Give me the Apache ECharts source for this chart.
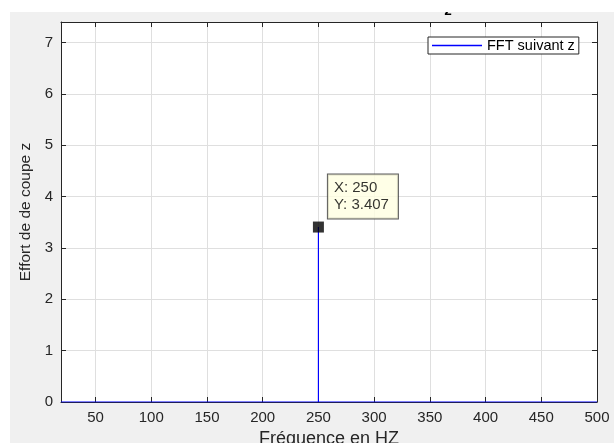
<!DOCTYPE html>
<html>
<head>
<meta charset="utf-8">
<script src="https://cdn.jsdelivr.net/npm/echarts@6/dist/echarts.min.js"></script>
<style>
html, body { margin: 0; padding: 0; background: #fff; }
#chart { width: 614px; height: 443px; }
</style>
</head>
<body>
<div id="chart"></div>
<script>
// FFT spectrum: flat at zero, single peak at 250 Hz
var freq = [19, 250, 250, 250, 500];
var effort = [0, 0, 3.407, 0, 0];
var tipPoint = [250, 3.407];
var xTicks = [50, 100, 150, 200, 250, 300, 350, 400, 450, 500];
var yTicks = [0, 1, 2, 3, 4, 5, 6, 7];

var font = 'Liberation Sans, Arial, Helvetica, sans-serif';
var ink = '#262626';
var gridColor = '#dfdfdf';
var blue = '#0000ff';

function edge_axis(pos, type) {
    var ax = {
        type: 'value', position: pos,
        min: type === 'x' ? 19 : 0,
        max: type === 'x' ? 500 : 7.4,
        axisLine: { show: true, onZero: false, lineStyle: { color: ink, width: 1 } },
        axisTick: { show: true, inside: true, length: 5, lineStyle: { color: ink },
                    customValues: type === 'x' ? xTicks : yTicks },
        axisLabel: { show: false },
        splitLine: { show: false }
    };
    return ax;
}

var chart = echarts.init(document.getElementById('chart'));
var xTop = edge_axis('top', 'x');
var yRight = edge_axis('right', 'y');

chart.setOption({
    animation: false,
    color: [blue, '#000'],
    textStyle: { fontFamily: font },
    graphic: [
        { type: 'rect', z: -100, shape: { x: 10, y: 12, width: 604, height: 431 },
          style: { fill: '#f0f0f0' } },
        { type: 'text', z: 50, x: 448, y: 18,
          style: { text: 'z', font: 'bold 15px ' + font, fill: '#000',
                   align: 'center', verticalAlign: 'bottom' } },
        { type: 'rect', z: 60, shape: { x: 0, y: 0, width: 614, height: 12 },
          style: { fill: '#fff' } }
    ],
    grid: { left: 61, top: 22, right: 17, bottom: 41, show: true,
            backgroundColor: '#fff', borderWidth: 0, outerBoundsMode: 'none' },
    legend: {
        data: [{ name: 'FFT suivant z', icon: 'rect' }],
        left: 428, top: 37,
        orient: 'vertical',
        backgroundColor: '#fff',
        borderColor: ink, borderWidth: 1, borderRadius: 0,
        padding: [1, 4, 1, 4],
        itemWidth: 50, itemHeight: 1.5, itemGap: 4,
        itemStyle: { color: blue, borderWidth: 0 },
        lineStyle: { color: blue, width: 1.5 },
        textStyle: { fontSize: 14.5, color: '#000', fontFamily: font }
    },
    xAxis: [{
        type: 'value', min: 19, max: 500,
        name: 'Fréquence en HZ', nameLocation: 'middle', nameGap: 24,
        nameTextStyle: { fontSize: 18, color: ink, fontFamily: font },
        axisLine: { show: true, onZero: false, lineStyle: { color: ink } },
        axisTick: { show: true, inside: true, length: 5, lineStyle: { color: ink },
                    customValues: xTicks },
        axisLabel: { color: ink, fontSize: 15, margin: 8, customValues: xTicks },
        splitLine: { show: true, lineStyle: { color: gridColor, width: 1 } }
    }, xTop],
    yAxis: [{
        type: 'value', min: 0, max: 7.4,
        name: 'Effort de de coupe z', nameLocation: 'middle', nameGap: 24,
        nameTextStyle: { fontSize: 15.5, color: ink, fontFamily: font },
        axisLine: { show: true, onZero: false, lineStyle: { color: ink } },
        axisTick: { show: true, inside: true, length: 5, lineStyle: { color: ink },
                    customValues: yTicks },
        axisLabel: { color: ink, fontSize: 15, margin: 8, customValues: yTicks },
        splitLine: { show: true, lineStyle: { color: gridColor, width: 1 } }
    }, yRight],
    series: [
        {
            name: 'FFT suivant z',
            type: 'line',
            symbol: 'none',
            z: 5,
            color: blue,
            lineStyle: { color: blue, width: 1 },
            itemStyle: { color: blue },
            data: freq.map(function (f, i) { return [f, effort[i]]; })
        },
        {
            name: 'tip',
            type: 'scatter',
            symbol: 'rect', symbolSize: 11,
            z: 10,
            itemStyle: { color: '#000', borderWidth: 0 },
            label: {
                show: true,
                position: [15, -47],
                formatter: function (p) { return 'X: ' + p.value[0] + '\nY: ' + p.value[1]; },
                backgroundColor: '#ffffe1',
                borderColor: '#333', borderWidth: 1,
                padding: [5, 6, 5, 6],
                width: 58,
                lineHeight: 17,
                fontSize: 15, color: '#000', fontFamily: font
            },
            data: [tipPoint]
        }
    ]
});
</script>
</body>
</html>
